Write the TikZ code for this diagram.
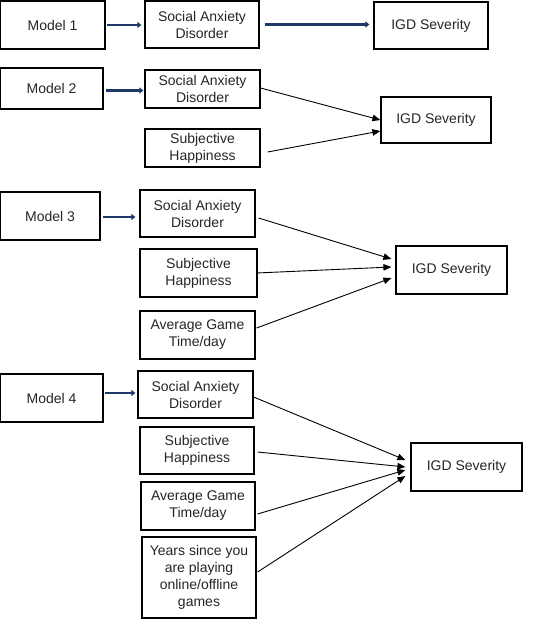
\documentclass[tikz,border=0pt]{standalone}
\usepackage{fontspec}
\setmainfont{Liberation Sans}
\usetikzlibrary{arrows.meta}
\definecolor{navyarrow}{RGB}{31,58,105}
\begin{document}
\begin{tikzpicture}[x=1pt,y=-1pt,
  box/.style={draw=black,line width=1.2pt,inner sep=0pt,align=center,
    font=\fontsize{14pt}{17pt}\selectfont,text=black!85},
  modelbox/.style={box,line width=1.7pt},
  bluearrow/.style={draw=navyarrow,line width=2.4pt,-{Triangle[length=4pt,width=6pt]}},
  blackarrow/.style={draw=black,line width=0.9pt,-{Triangle[length=8pt,width=6.5pt]}}]
\useasboundingbox (0,0) rectangle (540,619);
\fill[white] (0,0) rectangle (540,619);

% Model 1
\node[modelbox,minimum width=105pt,minimum height=48pt] (m1) at (52.5,25) {Model 1};
\node[box,minimum width=114pt,minimum height=47pt] (sad1) at (202,24.5) {Social Anxiety\\Disorder};
\node[box,minimum width=114pt,minimum height=47pt] (igd1) at (431,25.5) {IGD Severity};
\draw[bluearrow,shorten <=1pt,shorten >=3pt] (m1.east) -- (m1.east -| sad1.west);
\draw[bluearrow,shorten <=5pt,shorten >=4pt] (sad1.east) -- (sad1.east -| igd1.west);

% Model 2
\node[modelbox,minimum width=103pt,minimum height=41pt] (m2) at (51.5,88.5) {Model 2};
\node[box,minimum width=115pt,minimum height=38pt] (sad2) at (202.5,89) {Social Anxiety\\Disorder};
\node[box,minimum width=115pt,minimum height=38pt] (sh2) at (202.5,148) {Subjective\\Happiness};
\node[box,minimum width=110pt,minimum height=46pt] (igd2) at (436,120) {IGD Severity};
\draw[bluearrow,shorten <=2pt,shorten >=1pt] ([yshift=-2pt]m2.east) -- ([yshift=-2pt]m2.east -| sad2.west);
\draw[blackarrow] ([yshift=1pt]sad2.east) -- (igd2.west);
\draw[blackarrow] ([xshift=7pt,yshift=-4pt]sh2.east) -- ([yshift=-11pt]igd2.west);

% Model 3
\node[modelbox,minimum width=100pt,minimum height=48pt] (m3) at (50,216) {Model 3};
\node[box,minimum width=115pt,minimum height=47pt] (sad3) at (197.5,213.5) {Social Anxiety\\Disorder};
\node[box,minimum width=117pt,minimum height=48pt] (sh3) at (198.5,273) {Subjective\\Happiness};
\node[box,minimum width=115pt,minimum height=48pt] (agt3) at (197.5,335) {Average Game\\Time/day};
\node[box,minimum width=111pt,minimum height=48pt] (igd3) at (451.5,270) {IGD Severity};
\draw[bluearrow,shorten <=2pt,shorten >=4pt] ([yshift=-1pt]m3.east) -- ([yshift=-1pt]m3.east -| sad3.west);
\draw[blackarrow] ([xshift=3pt,yshift=-4.5pt]sad3.east) -- ([xshift=-4pt,yshift=11pt]igd3.west);
\draw[blackarrow] ([xshift=-1pt]sh3.east) -- ([xshift=-4pt,yshift=3pt]igd3.west);
\draw[blackarrow] ([xshift=1pt,yshift=7pt]agt3.east) -- ([xshift=-4pt,yshift=-8pt]igd3.west);

% Model 4
\node[modelbox,minimum width=103pt,minimum height=48pt] (m4) at (51.5,398) {Model 4};
\node[box,minimum width=115pt,minimum height=47pt] (sad4) at (195.5,394.5) {Social Anxiety\\Disorder};
\node[box,minimum width=114pt,minimum height=47pt] (sh4) at (197,450.5) {Subjective\\Happiness};
\node[box,minimum width=114pt,minimum height=48pt] (agt4) at (198,506) {Average Game\\Time/day};
\node[box,minimum width=114pt,minimum height=81pt] (yrs) at (199,577.5) {Years since you\\are playing\\online/offline\\games};
\node[box,minimum width=111pt,minimum height=48pt] (igd4) at (466.5,467) {IGD Severity};
\draw[bluearrow,shorten <=1pt,shorten >=2pt] ([yshift=5pt]m4.east) -- ([yshift=5pt]m4.east -| sad4.west);
\draw[blackarrow] ([yshift=-2.5pt]sad4.east) -- ([xshift=-5pt,yshift=7pt]igd4.west);
\draw[blackarrow] ([xshift=3pt,yshift=-1.5pt]sh4.east) -- ([xshift=-5pt]igd4.west);
\draw[blackarrow] ([xshift=2pt,yshift=-8pt]agt4.east) -- ([xshift=-5pt,yshift=-3pt]igd4.west);
\draw[blackarrow] ([xshift=1pt,yshift=5.5pt]yrs.east) -- ([xshift=-5pt,yshift=-9pt]igd4.west);
\end{tikzpicture}
\end{document}
